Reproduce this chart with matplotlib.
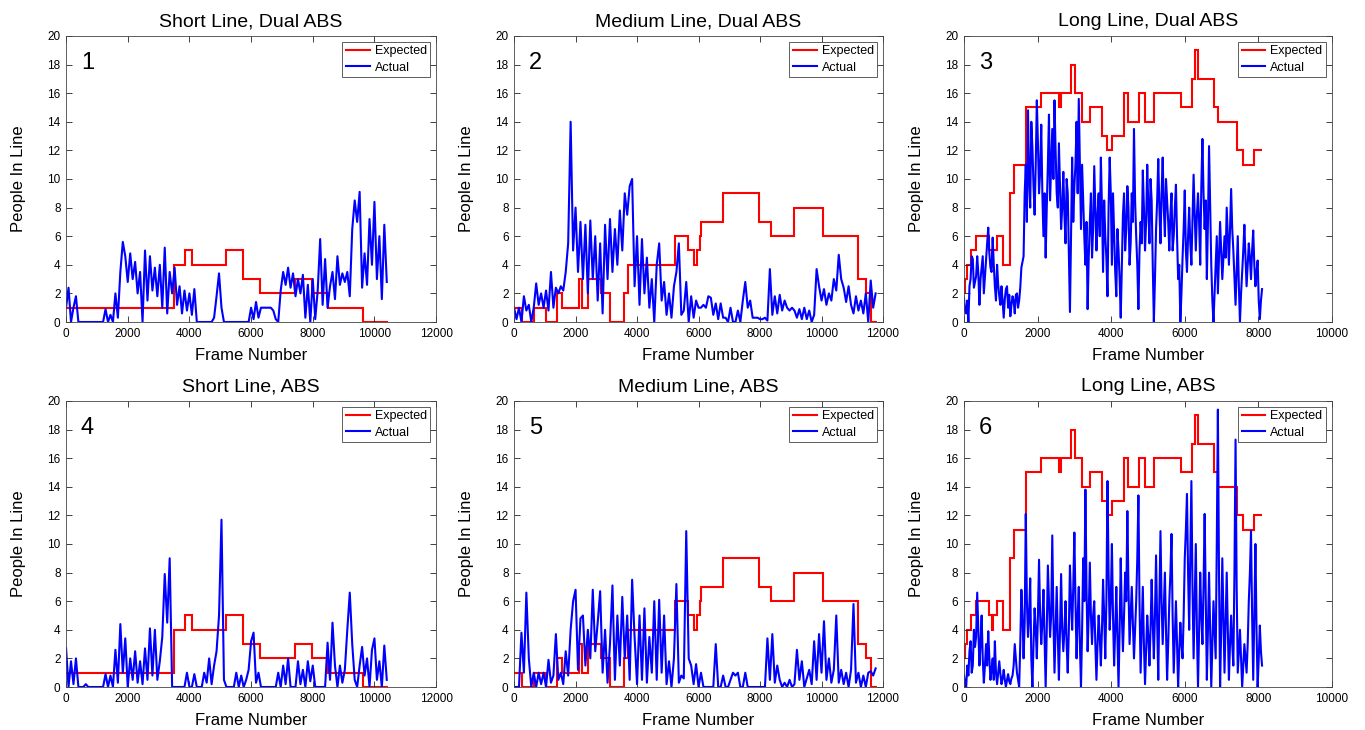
import numpy as np
import matplotlib
matplotlib.use("Agg")
import matplotlib.pyplot as plt

plt.rcParams['font.family'] = ['Liberation Sans', 'DejaVu Sans']

# expected queue length (step functions), edges in frames
short_edges = [0, 3510, 3860, 4090, 5180, 5740, 6290, 7430, 7970, 8510, 9640, 10430]
short_expected = [1, 4, 5, 4, 5, 3, 2, 3, 2, 1, 0]

medium_edges = [0, 250, 660, 1030, 1390, 1550, 2110, 2200, 2390, 2820, 3130, 3590, 3690,
                5250, 5660, 5860, 5950, 6040, 6080, 6800, 7980, 8350, 9110, 10050, 11200,
                11450, 11600, 11800]
medium_expected = [1, 0, 1, 0, 2, 1, 3, 1, 3, 2, 0, 2, 4, 6, 5, 4, 5, 6, 7, 9, 7, 6, 8, 6, 3, 2, 0]

long_edges = [0, 20, 70, 190, 330, 680, 770, 800, 900, 1060, 1250, 1360, 1680, 2080, 2590,
              2640, 2910, 3030, 3220, 3420, 3760, 3880, 4030, 4340, 4450, 4760, 4930, 5160,
              5890, 6190, 6280, 6370, 6790, 6910, 7430, 7590, 7890, 8110]
long_expected = [2, 3, 4, 5, 6, 5, 4, 5, 6, 4, 9, 11, 15, 16, 15, 16, 18, 16, 14, 15, 13, 12,
                 13, 16, 14, 16, 14, 16, 15, 17, 19, 17, 15, 14, 12, 11, 12]

# actual counts, sampled every 80 frames (short / medium) or 30 frames (long)
short_dual = [1.0, 2.4, 0, 1.0, 1.8, 0, 0, 0, 0, 0, 0, 0, 0, 0, 0, 0,
              0.9, 0, 0.5, 0, 2.0, 0.3, 3.5, 5.6, 4.6, 2.8, 4.8, 3.0, 4.2, 2.0, 3.5, 0,
              5.0, 1.5, 4.6, 2.2, 3.8, 1.8, 4.0, 1.0, 5.2, 0.6, 3.5, 2.0, 3.8, 1.2, 2.5, 0.6,
              2.2, 0.8, 2.0, 0.5, 2.3, 0, 0, 0, 0, 0, 0, 0, 0.3, 1.8, 3.4, 1.0,
              0, 0, 0, 0, 0, 0, 0, 0, 0, 0, 0, 1.0, 0.2, 1.4, 0.3, 1.0,
              1.0, 1.0, 1.0, 1.0, 0.8, 0.2, 0, 2.2, 3.5, 2.6, 3.8, 2.4, 3.4, 1.8, 3.0, 2.0,
              3.3, 0.3, 2.6, 0, 3.0, 0.2, 2.2, 5.8, 1.2, 4.4, 1.0, 2.5, 3.5, 1.6, 4.6, 2.6,
              3.4, 2.8, 3.5, 1.8, 6.5, 8.5, 7.0, 9.1, 2.4, 4.8, 2.6, 7.2, 4.0, 8.4, 3.0, 6.0,
              1.6, 6.8, 2.8]

medium_dual = [1.0, 0.2, 1.0, 0, 1.8, 0.8, 1.2, 0, 1.0, 2.7, 1.2, 2.0, 1.0, 2.2, 0.8, 3.5,
               1.0, 2.4, 2.0, 2.5, 2.2, 3.5, 5.5, 14.0, 5.0, 8.0, 3.5, 7.0, 3.0, 6.8, 2.0, 7.1,
               3.0, 6.0, 1.5, 5.5, 0.6, 6.8, 3.0, 7.2, 3.5, 6.5, 4.0, 7.8, 5.0, 9.0, 7.5, 9.5,
               10.0, 2.5, 6.0, 1.2, 5.8, 2.0, 4.5, 1.0, 3.0, 0, 4.0, 5.5, 1.5, 2.8, 0.5, 2.0,
               0.3, 2.5, 3.5, 5.5, 0.5, 0.8, 2.8, 0, 1.8, 0.3, 1.5, 1.0, 1.0, 1.2, 1.0, 1.8,
               1.7, 0.5, 1.3, 0.2, 1.3, 0.3, 0.3, 0, 1.0, 0, 0, 0.8, 0, 1.5, 2.8, 1.0,
               1.5, 0.3, 0.3, 0.3, 0.2, 0.2, 0.3, 0.1, 3.7, 0.5, 1.8, 0.6, 1.9, 0.8, 1.5, 1.0,
               0.8, 1.0, 0.8, 0.3, 0.9, 0.2, 1.0, 0.2, 0.8, 0, 0.5, 3.7, 2.5, 1.5, 2.3, 1.2,
               2.0, 1.5, 3.0, 2.2, 4.7, 3.0, 2.4, 1.4, 2.5, 1.2, 0.6, 1.8, 0.8, 1.5, 0.6, 2.0,
               0, 2.9, 1.0, 2.0]

long_dual = [1.7, 0.8, 0.6, 1.5, 0, 2.5, 3.0, 4.6, 4.4, 2.4, 2.8, 3.2, 4.6, 3.4, 1.2, 3.0,
             3.8, 4.6, 2.0, 3.2, 4.5, 5.5, 6.6, 4.8, 3.8, 3.5, 5.9, 4.0, 2.5, 1.5, 4.0, 2.6,
             1.8, 1.2, 2.5, 1.5, 0.3, 1.6, 2.3, 2.5, 1.0, 1.9, 0.4, 1.2, 1.8, 1.5, 0.6, 1.9,
             2.0, 1.0, 1.5, 2.4, 3.8, 4.2, 4.6, 9.0, 11.0, 7.0, 14.8, 10.0, 8.0, 14.0, 12.2, 9.5,
             7.5, 11.0, 15.5, 12.5, 9.0, 10.5, 13.8, 9.0, 6.0, 9.0, 4.5, 8.0, 11.0, 14.5, 8.5, 11.0,
             13.5, 10.0, 15.5, 12.0, 9.0, 8.0, 12.5, 9.5, 6.5, 8.0, 10.5, 7.5, 5.5, 10.0, 9.0, 5.0,
             0.7, 6.0, 11.5, 7.0, 9.5, 11.0, 14.0, 9.0, 15.6, 11.0, 6.5, 11.0, 8.5, 6.0, 4.0, 7.0,
             0.9, 4.5, 7.0, 9.0, 4.5, 6.5, 10.9, 8.0, 5.0, 7.5, 9.0, 6.0, 11.5, 8.0, 3.5, 8.5,
             6.0, 4.5, 1.8, 8.0, 11.5, 9.0, 4.0, 9.0, 6.2, 3.5, 1.8, 6.5, 5.0, 3.0, 0.3, 4.0,
             7.5, 9.0, 5.0, 6.5, 9.5, 8.0, 4.0, 5.5, 9.0, 7.0, 13.5, 8.5, 6.0, 4.0, 0.9, 5.0,
             7.0, 5.5, 10.6, 8.0, 5.0, 7.0, 11.0, 8.0, 5.5, 10.0, 8.5, 4.0, 0, 3.0, 6.5, 8.5,
             11.4, 8.0, 5.5, 9.0, 11.5, 8.0, 6.0, 10.0, 8.5, 7.0, 5.0, 7.5, 9.0, 5.0, 6.0, 8.0,
             9.6, 6.0, 3.0, 4.0, 0, 2.0, 4.5, 6.5, 9.2, 5.0, 3.5, 6.0, 8.0, 5.5, 4.0, 7.0,
             10.3, 7.5, 5.0, 7.5, 9.0, 7.0, 4.0, 9.5, 12.8, 9.0, 6.5, 8.5, 3.0, 7.0, 12.3, 8.0,
             4.0, 1.5, 0, 2.0, 4.0, 6.0, 2.0, 4.5, 7.0, 5.0, 3.0, 4.5, 6.0, 4.5, 8.0, 6.0,
             4.0, 6.5, 9.3, 6.5, 5.0, 3.0, 1.2, 3.5, 6.0, 2.5, 0, 2.0, 3.5, 5.0, 6.8, 4.5,
             2.5, 4.0, 5.5, 4.5, 3.0, 5.0, 6.4, 4.0, 2.5, 3.5, 4.3, 1.5, 0.2, 1.5, 2.3]

short_abs = [2.7, 0, 1.8, 0.2, 2.0, 0, 0, 0, 0.2, 0, 0, 0, 0, 0, 0, 0,
             0.9, 0, 0.8, 0, 2.6, 0.3, 4.4, 1.0, 3.4, 0, 2.0, 0.5, 2.5, 0.3, 1.8, 0.2,
             2.7, 0.5, 4.1, 0.8, 4.0, 0.5, 1.8, 3.5, 7.9, 4.5, 9.0, 0, 0, 0, 0, 0,
             0, 1.0, 0, 0, 0.9, 0, 0, 0, 1.0, 0.3, 2.0, 0.2, 1.5, 2.5, 5.0, 11.7,
             0.5, 0, 0, 0, 0, 1.0, 0, 0.8, 0, 0.5, 1.2, 3.2, 3.8, 0.3, 1.0, 0,
             0, 0, 0, 0, 0, 0, 1.0, 0, 1.5, 0.2, 2.0, 0, 0, 0, 1.8, 0.2,
             1.2, 0, 1.8, 0.4, 1.5, 0, 0, 0, 0, 0, 3.1, 0.5, 4.5, 1.5, 0, 1.5,
             0.3, 1.2, 4.0, 6.6, 3.0, 0.5, 0, 1.5, 2.8, 0.8, 2.0, 0, 2.6, 3.4, 0.5, 1.8,
             0, 2.9, 0.5]

medium_abs = [0, 0, 0, 3.8, 1.0, 6.6, 2.0, 0, 1.0, 0, 1.0, 0.2, 1.0, 0, 1.9, 0.3,
              0.8, 3.7, 0.5, 1.0, 0.2, 2.5, 0.8, 4.0, 6.0, 6.8, 1.2, 4.8, 5.0, 1.5, 4.0, 2.0,
              6.8, 2.5, 4.5, 6.7, 1.0, 4.0, 0.3, 3.0, 7.1, 0.5, 5.0, 1.5, 6.3, 2.0, 5.0, 0.5,
              7.5, 3.5, 0.2, 5.0, 0.5, 5.5, 0.3, 3.5, 1.0, 6.0, 0.5, 6.1, 1.0, 5.0, 0.2, 1.8,
              0, 2.0, 7.2, 0.3, 0.8, 0.6, 10.9, 2.0, 1.5, 0.2, 1.6, 0, 1.0, 0, 0, 0,
              0, 0, 3.0, 0, 0, 0.8, 0, 0, 0.5, 1.0, 0.8, 1.0, 0, 0, 1.0, 0,
              0, 0, 0, 0, 0, 0, 0, 3.4, 0.5, 3.7, 0.3, 1.5, 0.5, 0, 0.3, 0,
              0.5, 0, 0.2, 2.6, 0.5, 1.8, 0, 0.6, 1.2, 0.2, 3.2, 0.5, 3.7, 1.0, 4.6, 0.5,
              2.0, 0.3, 1.2, 5.0, 0.3, 1.2, 0.2, 1.0, 0, 1.2, 5.8, 0.3, 1.0, 0, 0.8, 0,
              1.0, 1.1, 0.8, 1.3]

long_abs = [0.8, 0.3, 0, 1.5, 0.8, 2.5, 3.2, 1.0, 1.5, 4.0, 2.8, 3.5, 6.6, 4.0, 1.5, 3.0,
            5.0, 2.0, 0.3, 1.5, 3.0, 1.5, 3.9, 2.0, 0.5, 1.2, 2.0, 0.5, 3.2, 1.0, 0.2, 1.0,
            1.8, 0.9, 0.2, 0.6, 1.2, 0.5, 0, 0.5, 0.9, 0.4, 0.2, 0.6, 0.8, 1.5, 3.0, 2.0,
            1.0, 0.5, 0, 3.0, 6.8, 5.0, 2.0, 4.5, 12.1, 6.0, 3.5, 5.0, 7.6, 2.0, 0, 3.0,
            5.5, 4.0, 2.0, 5.0, 8.9, 5.0, 3.0, 4.5, 6.8, 3.5, 0, 4.0, 8.5, 6.0, 3.5, 5.0,
            10.6, 5.0, 1.0, 4.0, 7.0, 3.5, 0.5, 4.0, 7.9, 4.0, 2.5, 4.0, 6.0, 3.0, 1.0, 4.0,
            8.5, 6.0, 4.0, 7.0, 10.8, 6.0, 2.0, 5.0, 7.0, 3.0, 0, 4.0, 9.0, 6.0, 13.8, 7.0,
            2.5, 5.0, 8.7, 5.0, 3.0, 5.0, 6.0, 3.0, 0.5, 3.0, 5.0, 3.5, 1.5, 4.0, 7.5, 5.0,
            2.0, 6.0, 14.4, 8.0, 4.0, 6.0, 10.0, 5.0, 1.5, 4.0, 7.0, 3.5, 0, 4.0, 9.0, 5.0,
            2.5, 5.0, 8.0, 6.0, 12.3, 7.0, 3.0, 5.0, 7.0, 4.5, 2.0, 4.0, 6.0, 9.0, 13.4, 6.0,
            1.0, 4.0, 7.0, 3.0, 0.2, 2.5, 5.0, 3.5, 1.5, 4.0, 7.5, 4.5, 2.0, 5.0, 9.2, 4.5,
            0.5, 6.0, 10.9, 6.0, 3.0, 5.5, 8.0, 4.0, 0.5, 3.0, 6.0, 8.0, 10.7, 5.0, 1.0, 3.5,
            6.0, 3.0, 0, 2.5, 4.5, 3.0, 2.0, 5.0, 9.0, 11.0, 13.5, 8.0, 4.0, 9.0, 14.4, 7.0,
            2.0, 6.0, 10.0, 4.0, 0, 4.0, 8.0, 5.0, 3.0, 7.0, 12.1, 6.0, 0.5, 4.0, 8.0, 4.0,
            0, 3.0, 6.0, 4.0, 2.0, 10.0, 19.4, 8.0, 0, 4.0, 9.0, 5.0, 1.0, 4.5, 8.0, 4.0,
            0.5, 3.0, 5.0, 3.0, 1.5, 8.0, 17.3, 7.0, 1.0, 2.5, 4.0, 2.0, 0, 1.5, 3.0, 2.0,
            1.0, 3.0, 6.0, 8.0, 10.9, 5.0, 0.5, 5.0, 10.0, 4.0, 0, 2.0, 4.3, 2.5, 1.5]

titles = ["Short Line, Dual ABS", "Medium Line, Dual ABS", "Long Line, Dual ABS",
          "Short Line, ABS", "Medium Line, ABS", "Long Line, ABS"]
expected = [(short_edges, short_expected), (medium_edges, medium_expected), (long_edges, long_expected)] * 2
actual = [(short_dual, 80), (medium_dual, 80), (long_dual, 30),
          (short_abs, 80), (medium_abs, 80), (long_abs, 30)]
xmax = [12000, 12000, 10000] * 2

fig = plt.figure(figsize=(13.65, 7.3), dpi=100)
lefts = [0.0484, 0.3766, 0.7062]
widths = [0.2711, 0.2703, 0.2696]
bottoms = [0.5589, 0.0589]

for i in range(6):
    r, c = divmod(i, 3)
    ax = fig.add_axes([lefts[c], bottoms[r], widths[c], 0.3918])
    edges, vals = expected[i]
    ax.stairs(vals, edges, color='#ff0000', lw=1.5, baseline=None, label='Expected')
    y, step = actual[i]
    x = np.arange(len(y)) * step
    ax.plot(x, y, color='#0000ff', lw=1.5, label='Actual')
    ax.set_xlim(0, xmax[i])
    ax.set_ylim(0, 20)
    ax.set_yticks(range(0, 21, 2))
    ax.set_xticks(range(0, xmax[i] + 1, 2000))
    ax.tick_params(direction='in', top=True, right=True, length=4, width=0.6,
                   labelsize=8.5, pad=4, colors='#222222', labelcolor='black')
    for s in ax.spines.values():
        s.set_linewidth(0.6)
        s.set_color('#444444')
    ax.set_title(titles[i], fontsize=14, pad=7)
    ax.set_xlabel("Frame Number", fontsize=12, labelpad=6)
    ax.set_ylabel("People In Line", fontsize=12, labelpad=15)
    ax.text(0.04, 0.905, str(i + 1), transform=ax.transAxes, fontsize=17, va='center')
    leg = ax.legend(loc='upper right', fontsize=9, fancybox=False, framealpha=1,
                    edgecolor='#444444', handlelength=1.9, labelspacing=0.35,
                    borderpad=0.3, borderaxespad=0.45, handletextpad=0.4)
    leg.get_frame().set_linewidth(0.6)

fig.savefig("out.png", dpi=100)
